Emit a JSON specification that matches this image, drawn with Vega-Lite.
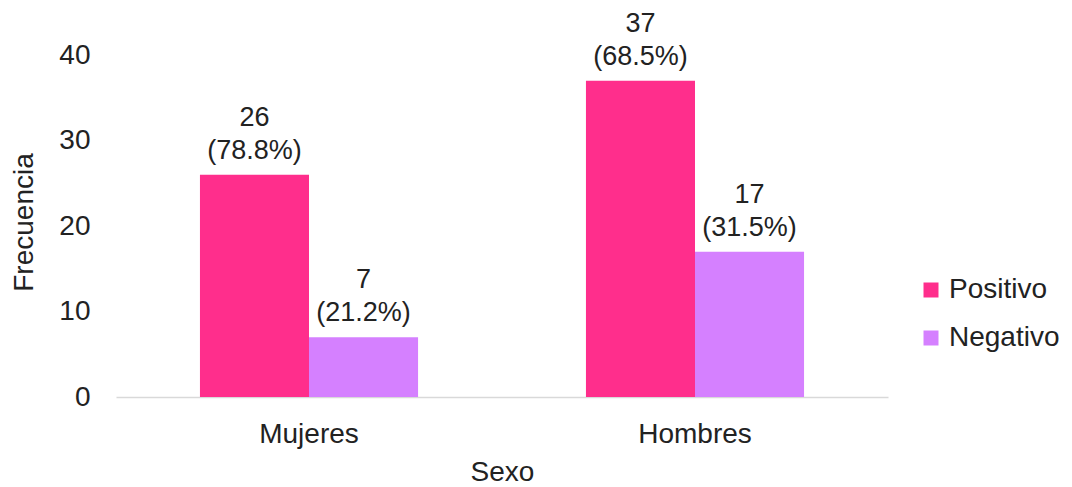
{
  "$schema": "https://vega.github.io/schema/vega-lite/v6.json",
  "autosize": {"type": "none"},
  "padding": {"left": 116, "top": 55, "right": 184, "bottom": 90},
  "width": 772,
  "height": 342,
  "config": {
    "font": "Liberation Sans",
    "view": {"stroke": null},
    "text": {"font": "Liberation Sans"}
  },
  "data": {
    "values": [
      {"sexo": "Mujeres", "resultado": "Positivo", "frecuencia": 26, "pct": "(78.8%)"},
      {"sexo": "Mujeres", "resultado": "Negativo", "frecuencia": 7, "pct": "(21.2%)"},
      {"sexo": "Hombres", "resultado": "Positivo", "frecuencia": 37, "pct": "(68.5%)"},
      {"sexo": "Hombres", "resultado": "Negativo", "frecuencia": 17, "pct": "(31.5%)"}
    ]
  },
  "encoding": {
    "x": {
      "field": "sexo",
      "type": "nominal",
      "sort": ["Mujeres", "Hombres"],
      "scale": {"paddingInner": 0.435, "paddingOuter": 0.2175},
      "axis": {
        "title": "Sexo",
        "labelAngle": 0,
        "labelFontSize": 28,
        "labelColor": "#222222",
        "labelPadding": 45,
        "labelBaseline": "alphabetic",
        "titleFontSize": 28,
        "titleFontWeight": "normal",
        "titleColor": "#222222",
        "titleBaseline": "alphabetic",
        "titleY": 83,
        "ticks": false,
        "domainColor": "#d9d9d9",
        "domainWidth": 1.5,
        "grid": false
      }
    },
    "xOffset": {"field": "resultado", "type": "nominal", "sort": ["Positivo", "Negativo"], "scale": {"paddingInner": 0, "paddingOuter": 0}},
    "y": {
      "field": "frecuencia",
      "type": "quantitative",
      "scale": {"domain": [0, 40]},
      "axis": {
        "title": "Frecuencia",
        "values": [0, 10, 20, 30, 40],
        "labelFontSize": 28,
        "labelColor": "#222222",
        "labelPadding": 26,
        "ticks": false,
        "domain": false,
        "grid": false,
        "titleFontSize": 28,
        "titleFontWeight": "normal",
        "titleColor": "#222222",
        "titleAngle": -90,
        "titleX": -92,
        "titleY": 167,
        "titleAlign": "center",
        "titleBaseline": "middle"
      }
    }
  },
  "layer": [
    {
      "mark": {"type": "bar"},
      "encoding": {
        "color": {
          "field": "resultado",
          "type": "nominal",
          "sort": ["Positivo", "Negativo"],
          "scale": {"domain": ["Positivo", "Negativo"], "range": ["#FF2E8C", "#D580FF"]},
          "legend": {
            "title": null,
            "orient": "none",
            "legendX": 801,
            "legendY": 221,
            "symbolType": "square",
            "symbolSize": 225,
            "symbolStrokeWidth": 0,
            "labelFontSize": 28,
            "labelColor": "#222222",
            "rowPadding": 20,
            "labelOffset": 4
          }
        }
      }
    },
    {
      "mark": {"type": "text", "baseline": "alphabetic", "dy": -16, "fontSize": 27, "color": "#222222"},
      "encoding": {
        "text": {"field": "pct"}
      }
    },
    {
      "mark": {"type": "text", "baseline": "alphabetic", "dy": -49, "fontSize": 27, "color": "#222222"},
      "encoding": {
        "text": {"field": "frecuencia", "type": "quantitative"}
      }
    }
  ]
}
